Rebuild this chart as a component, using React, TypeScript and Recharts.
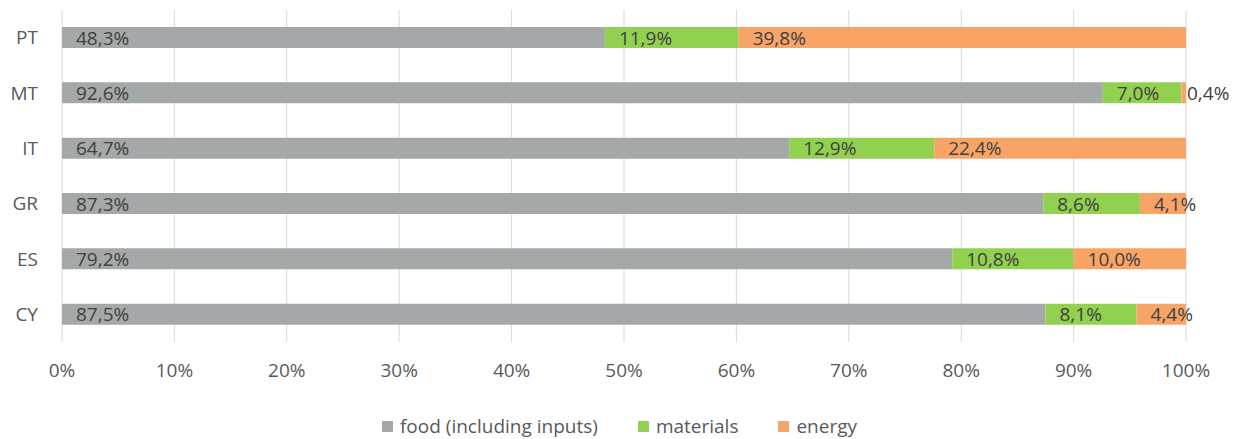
import React from 'react';
import { BarChart, Bar, XAxis, YAxis, CartesianGrid, Legend, LabelList } from 'recharts';

const countries = ['PT', 'MT', 'IT', 'GR', 'ES', 'CY'];
const food = [48.3, 92.6, 64.7, 87.3, 79.2, 87.5];
const materials = [11.9, 7.0, 12.9, 8.6, 10.8, 8.1];
const energy = [39.8, 0.4, 22.4, 4.1, 10.0, 4.4];
const xTicks = [0, 10, 20, 30, 40, 50, 60, 70, 80, 90, 100];

const series = [
  { key: 'food', name: 'food (including inputs)', color: '#a5a8a8' },
  { key: 'materials', name: 'materials', color: '#92d050' },
  { key: 'energy', name: 'energy', color: '#f8a466' },
];

const data = countries.map((name, i) => ({
  name,
  food: food[i],
  materials: materials[i],
  energy: energy[i],
}));

const FONT = '"Open Sans", sans-serif';
const fmt = (v: number) => `${v.toFixed(1).replace('.', ',')}%`;

// label sits at the base of each segment, spilling past tiny ones
const SegmentLabel = (props: any) => {
  const { x, y, width, height, value } = props;
  const pad = Math.min(14, Math.max(width, 0) + 1);
  return (
    <text
      x={x + pad}
      y={y + height / 2}
      dominantBaseline="central"
      fontSize={19}
      fontFamily={FONT}
      fill="#404040"
    >
      {fmt(value)}
    </text>
  );
};

const LegendRow = () => (
  <div
    style={{
      display: 'flex',
      justifyContent: 'center',
      gap: 40,
      fontFamily: FONT,
      fontSize: 19,
      color: '#595959',
      height: 24,
      alignItems: 'center',
      paddingRight: 5,
    }}
  >
    {series.map((s) => (
      <span key={s.key} style={{ display: 'flex', alignItems: 'center' }}>
        <span style={{ width: 11, height: 11, background: s.color, marginRight: 7, display: 'inline-block' }} />
        {s.name}
      </span>
    ))}
  </div>
);

export default function App() {
  return (
    <div style={{ width: 1244, height: 439, background: '#fff' }}>
      <style>{'body{margin:0}'}</style>
      <BarChart
        width={1244}
        height={439}
        data={data}
        layout="vertical"
        margin={{ top: 10, right: 58, left: 12, bottom: 38 }}
        barSize={21}
      >
        <CartesianGrid horizontal={false} stroke="#d9d9d9" />
        <XAxis
          type="number"
          domain={[0, 100]}
          ticks={xTicks}
          tickFormatter={(v) => `${v}%`}
          axisLine={false}
          tickLine={false}
          tickSize={0}
          tickMargin={22}
          height={35}
          interval={0}
          tick={{ fill: '#595959', fontSize: 19, fontFamily: FONT }}
        />
        <YAxis
          type="category"
          dataKey="name"
          axisLine={false}
          tickLine={false}
          tickSize={0}
          tickMargin={24}
          width={50}
          tick={{ fill: '#595959', fontSize: 19, fontFamily: FONT }}
        />
        <Legend
          verticalAlign="bottom"
          content={<LegendRow />}
          wrapperStyle={{ left: 0, width: 1244, bottom: 'auto', top: 414 }}
        />
        {series.map((s) => (
          <Bar key={s.key} dataKey={s.key} name={s.name} stackId="a" fill={s.color} isAnimationActive={false}>
            <LabelList dataKey={s.key} content={<SegmentLabel />} />
          </Bar>
        ))}
      </BarChart>
    </div>
  );
}
